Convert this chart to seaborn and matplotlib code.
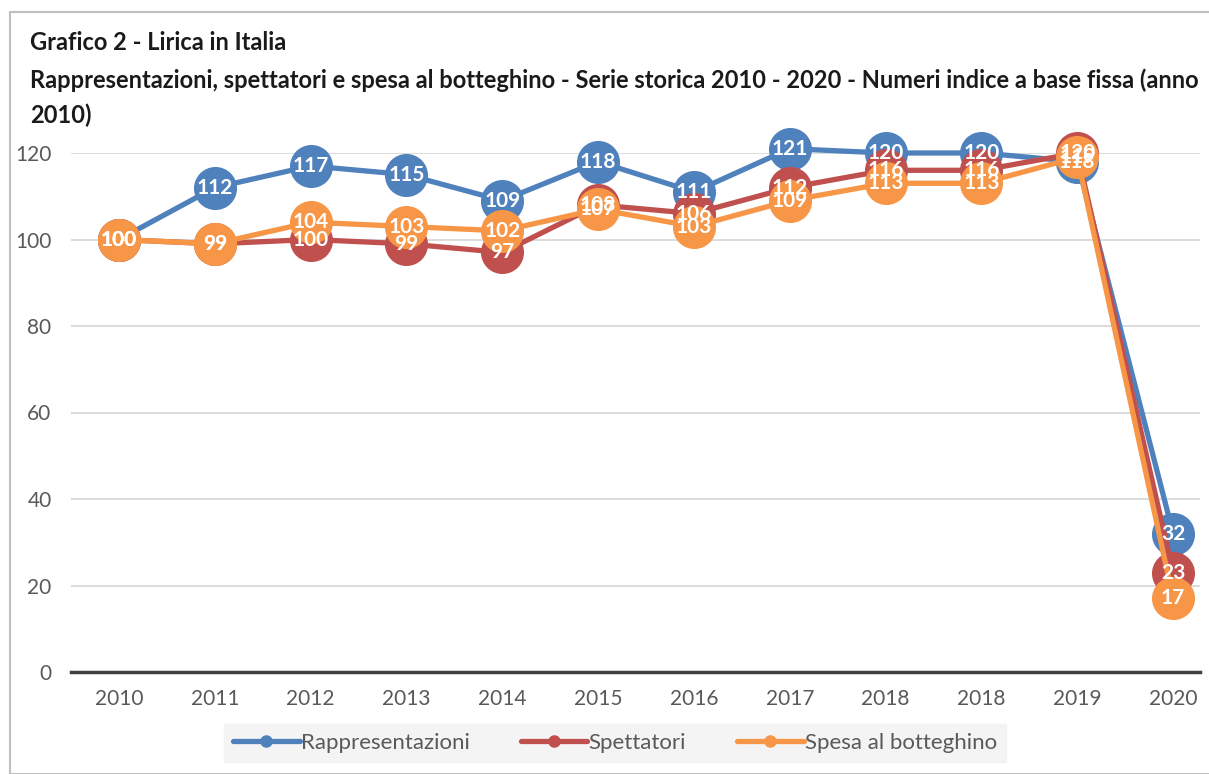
import matplotlib
matplotlib.use("Agg")
import matplotlib.pyplot as plt
import seaborn as sns
import pandas as pd
from matplotlib.patches import Rectangle
from matplotlib.lines import Line2D

years = ["2010", "2011", "2012", "2013", "2014", "2015", "2016", "2017", "2018", "2018", "2019", "2020"]
rappresentazioni = [100, 112, 117, 115, 109, 118, 111, 121, 120, 120, 118, 32]
spettatori = [100, 99, 100, 99, 97, 108, 106, 112, 116, 116, 120, 23]
spesa = [100, 99, 104, 103, 102, 107, 103, 109, 113, 113, 119, 17]
series_names = ["Rappresentazioni", "Spettatori", "Spesa al botteghino"]
colors = ["#4F81BD", "#C0504D", "#F79646"]

sns.set_theme(style="white")
plt.rcParams["font.family"] = ["Lato", "DejaVu Sans"]

fig = plt.figure(figsize=(12.09, 7.74), dpi=100)
ax = fig.add_axes([71 / 1209, (774 - 672) / 774, (1200 - 71) / 1209, (672 - 153) / 774])

idx = list(range(len(years)))
rows = []
for name, vals in zip(series_names, [rappresentazioni, spettatori, spesa]):
    for i, v in zip(idx, vals):
        rows.append({"pos": i, "val": v, "serie": name})
df = pd.DataFrame(rows)

for name, col in zip(series_names, colors):
    sub = df[df["serie"] == name]
    sns.lineplot(data=sub, x="pos", y="val", ax=ax, color=col, linewidth=3.8,
                 marker="o", markersize=31, markeredgewidth=0, sort=False,
                 clip_on=False, zorder=3, legend=False)

for name, col in zip(series_names, colors):
    sub = df[df["serie"] == name]
    for x, y in zip(sub["pos"], sub["val"]):
        ax.text(x, y, f"{y}", ha="center", va="center", color="white",
                fontsize=15, fontweight="bold", zorder=5, clip_on=False)

ax.set_xlim(-0.5, 11.28)
ax.set_ylim(0, 120)
ax.set_yticks(range(0, 121, 20))
ax.set_xticks(idx)
ax.set_xticklabels(years)
ax.set_xlabel("")
ax.set_ylabel("")
ax.grid(axis="y", color="#D9D9D9", linewidth=1.3, zorder=0)
ax.grid(axis="x", visible=False)
for s in ["top", "right", "left"]:
    ax.spines[s].set_visible(False)
ax.spines["bottom"].set_color("#404040")
ax.spines["bottom"].set_linewidth(2.5)
ax.spines["bottom"].set_zorder(2)
ax.tick_params(axis="both", length=0, labelsize=15, labelcolor="#595959")
ax.tick_params(axis="x", pad=12)
ax.tick_params(axis="y", pad=14)

# outer border
fig.patches.append(Rectangle((10 / 1209, 0), 1.2, (774 - 12) / 774, transform=fig.transFigure,
                             fill=False, edgecolor="#BFBFBF", linewidth=1.5))

fig.text(30 / 1209, 1 - 42 / 774, "Grafico 2 - Lirica in Italia", fontsize=17,
         fontweight="bold", va="center", ha="left", color="#1a1a1a")
fig.text(30 / 1209, 1 - 80 / 774,
         "Rappresentazioni, spettatori e spesa al botteghino - Serie storica 2010 - 2020 - Numeri indice a base fissa (anno",
         fontsize=17, fontweight="bold", va="center", ha="left", color="#1a1a1a")
fig.text(30 / 1209, 1 - 115 / 774, "2010)", fontsize=17, fontweight="bold",
         va="center", ha="left", color="#1a1a1a")

handles = [Line2D([0], [0], color=c, linewidth=3.8, marker="o", markersize=8) for c in colors]
leg = fig.legend(handles, series_names, loc="center", bbox_to_anchor=(615 / 1209, 1 - 743 / 774),
                 ncol=3, frameon=True, facecolor="#F2F2F2", edgecolor="#F2F2F2", fancybox=False,
                 fontsize=16, handlelength=3.0, handletextpad=0.05, columnspacing=2.3,
                 borderpad=0.4)
for t in leg.get_texts():
    t.set_color("#595959")

fig.savefig("out.png", dpi=100)
